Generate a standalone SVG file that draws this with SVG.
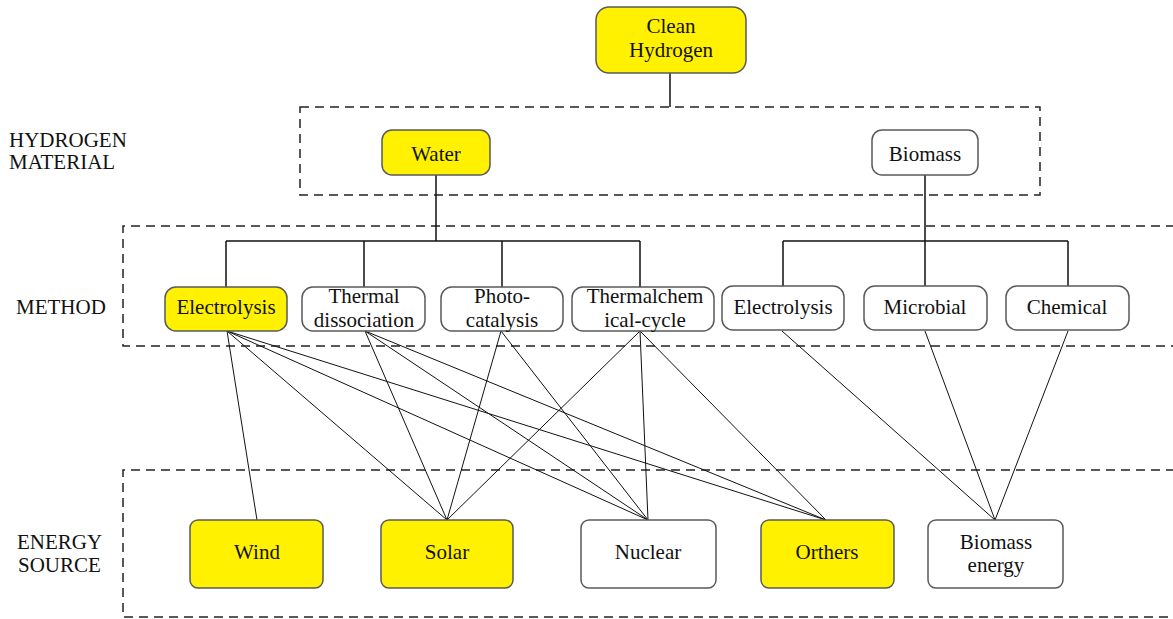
<svg xmlns="http://www.w3.org/2000/svg" width="1173" height="619" viewBox="0 0 1173 619">
<style>
.bg{fill:#ffffff}
.box{stroke:#5a5a5a;stroke-width:1.5}
.y{fill:#fff100}
.w{fill:#ffffff}
.t{font-family:"Liberation Serif","Times New Roman",serif;font-size:21px;fill:#111;text-anchor:middle}
.lab{font-family:"Liberation Serif","Times New Roman",serif;font-size:21px;fill:#111}
.dash{fill:none;stroke:#222;stroke-width:1.5;stroke-dasharray:9 6}
.tree{fill:none;stroke:#111;stroke-width:1.5}
.c{stroke:#111;stroke-width:1;fill:none}
</style>
<rect class="bg" x="0" y="0" width="1173" height="619"/>
<g id="frames">
<rect class="dash" x="300" y="107" width="740" height="88"/>
<path class="dash" d="M1175 226 H123 V346 H1175"/>
<path class="dash" d="M1175 470 H123 V617 H1175"/>
</g>
<g id="labels">
<text class="lab" x="9" y="147">HYDROGEN</text>
<text class="lab" x="9" y="169">MATERIAL</text>
<text class="lab" x="16" y="314">METHOD</text>
<text class="lab" x="17" y="549">ENERGY</text>
<text class="lab" x="18" y="572">SOURCE</text>
</g>
<g id="connectors">
<path class="tree" d="M670 73 V107"/>
<path class="tree" d="M436 175 V241 M226 241 H640 M226 241 V287 M364 241 V287 M502 241 V287 M640 241 V287"/>
<path class="tree" d="M925 175 V286 M783 241 H1068 M783 241 V286 M1068 241 V286"/>
<path class="c" d="M227 331 L257 520 M227 331 L447 520 M227 331 L648 520 M227 331 L826 520"/>
<path class="c" d="M365 331 L447 520 M365 331 L648 520 M365 331 L826 520"/>
<path class="c" d="M501 331 L447 520 M501 331 L648 520"/>
<path class="c" d="M640 331 L447 520 M640 331 L648 520 M640 331 L826 520"/>
<path class="c" d="M782 331 L995 520 M925 331 L995 520 M1068 331 L995 520"/>
</g>
<g id="n-clean">
<rect class="box y" x="596" y="7" width="150" height="66" rx="13"/>
<text class="t" x="671" y="33">Clean</text>
<text class="t" x="671" y="57">Hydrogen</text>
</g>
<g id="n-water">
<rect class="box y" x="382" y="130" width="108" height="45" rx="10"/>
<text class="t" x="436" y="161">Water</text>
</g>
<g id="n-biomass">
<rect class="box w" x="872" y="130" width="106" height="45" rx="10"/>
<text class="t" x="925" y="161">Biomass</text>
</g>
<g id="n-electrolysis1">
<rect class="box y" x="165" y="287" width="122" height="44" rx="11"/>
<text class="t" x="226" y="314">Electrolysis</text>
</g>
<g id="n-thermal">
<rect class="box w" x="302" y="287" width="123" height="44" rx="11"/>
<text class="t" x="364" y="303">Thermal</text>
<text class="t" x="364" y="327">dissociation</text>
</g>
<g id="n-photo">
<rect class="box w" x="441" y="287" width="122" height="44" rx="11"/>
<text class="t" x="502" y="303">Photo-</text>
<text class="t" x="502" y="327">catalysis</text>
</g>
<g id="n-thermochem">
<rect class="box w" x="572" y="287" width="142" height="44" rx="11"/>
<text class="t" x="645" y="303">Thermalchem</text>
<text class="t" x="645" y="327">ical-cycle</text>
</g>
<g id="n-electrolysis2">
<rect class="box w" x="722" y="286" width="122" height="44" rx="11"/>
<text class="t" x="783" y="314">Electrolysis</text>
</g>
<g id="n-microbial">
<rect class="box w" x="864" y="286" width="123" height="44" rx="11"/>
<text class="t" x="925" y="314">Microbial</text>
</g>
<g id="n-chemical">
<rect class="box w" x="1006" y="286" width="123" height="44" rx="11"/>
<text class="t" x="1067" y="314">Chemical</text>
</g>
<g id="n-wind">
<rect class="box y" x="190" y="520" width="133" height="68" rx="8"/>
<text class="t" x="257" y="559">Wind</text>
</g>
<g id="n-solar">
<rect class="box y" x="381" y="520" width="132" height="68" rx="8"/>
<text class="t" x="447" y="559">Solar</text>
</g>
<g id="n-nuclear">
<rect class="box w" x="581" y="520" width="135" height="68" rx="8"/>
<text class="t" x="648" y="559">Nuclear</text>
</g>
<g id="n-orthers">
<rect class="box y" x="761" y="520" width="133" height="68" rx="8"/>
<text class="t" x="827" y="559">Orthers</text>
</g>
<g id="n-bioenergy">
<rect class="box w" x="928" y="520" width="135" height="68" rx="8"/>
<text class="t" x="996" y="549">Biomass</text>
<text class="t" x="996" y="572">energy</text>
</g>
</svg>
